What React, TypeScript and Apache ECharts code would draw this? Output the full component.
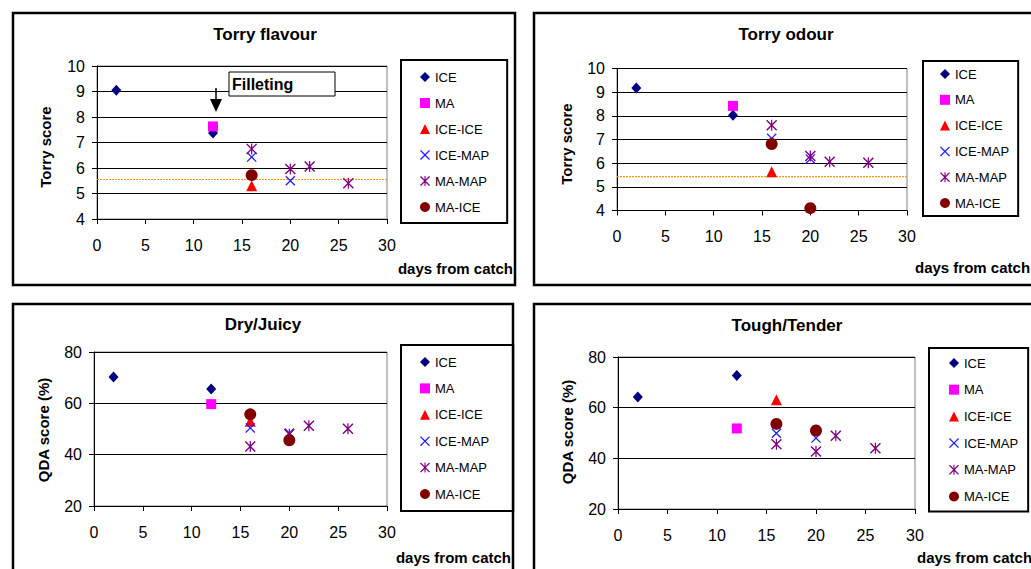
import React, { useEffect, useRef } from "react";
import * as echarts from "echarts";

const SERIES_NAMES = ["ICE", "MA", "ICE-ICE", "ICE-MAP", "MA-MAP", "MA-ICE"];
const PANEL_TITLES = ["Torry flavour", "Torry odour", "Dry/Juicy", "Tough/Tender"];
const Y_NAMES = ["Torry score", "Torry score", "QDA score (%)", "QDA score (%)"];
const X_NAME = "days from catch";
const FILLET_LABEL = "Filleting";

// Torry flavour
const flavourICE = [[2, 9.05], [12, 7.37]];
const flavourMA = [[12, 7.63]];
const flavourICEICE = [[16, 5.3]];
const flavourICEMAP = [[16, 6.43], [20, 5.5]];
const flavourMAMAP = [[16, 6.75], [20, 5.96], [22, 6.06], [26, 5.4]];
const flavourMAICE = [[16, 5.72]];
const flavourLimit = 5.55;

// Torry odour
const odourICE = [[2, 9.18], [12, 8.02]];
const odourMA = [[12, 8.42]];
const odourICEICE = [[16, 5.64]];
const odourICEMAP = [[16, 7.05], [20, 6.18]];
const odourMAMAP = [[16, 7.6], [20, 6.3], [22, 6.06], [26, 6.02]];
const odourMAICE = [[16, 6.81], [20, 4.1]];
const odourLimit = 5.43;

// Dry/Juicy
const juicyICE = [[2, 70.3], [12, 65.6]];
const juicyMA = [[12, 59.7]];
const juicyICEICE = [[16, 53.0]];
const juicyICEMAP = [[16, 50.4], [20, 48.4]];
const juicyMAMAP = [[16, 43.2], [20, 48.0], [22, 51.3], [26, 50.1]];
const juicyMAICE = [[16, 55.7], [20, 45.6]];

// Tough/Tender
const tenderICE = [[2, 64.2], [12, 72.7]];
const tenderMA = [[12, 51.8]];
const tenderICEICE = [[16, 63.1]];
const tenderICEMAP = [[16, 49.9], [20, 48.0]];
const tenderMAMAP = [[16, 45.6], [20, 42.7], [22, 48.9], [26, 44.0]];
const tenderMAICE = [[16, 53.6], [20, 51.0]];

const X_RANGE = { min: 0, max: 30, interval: 5 };
const TORRY_RANGE = { min: 4, max: 10, interval: 1 };
const QDA_RANGE = { min: 20, max: 80, interval: 20 };

const X_SHAPE =
  "path://M0,0.9L0.9,0L5,4.1L9.1,0L10,0.9L5.9,5L10,9.1L9.1,10L5,5.9L0.9,10L0,9.1L4.1,5Z";
const STAR_SHAPE =
  "path://M0,0.9L0.9,0L5,4.1L9.1,0L10,0.9L5.9,5L10,9.1L9.1,10L5,5.9L0.9,10L0,9.1L4.1,5Z M4.45,0L5.55,0L5.55,10L4.45,10Z";

const STYLES: Record<string, any> = {
  ICE: { symbol: "diamond", symbolSize: [10, 11], color: "#000080" },
  MA: { symbol: "rect", symbolSize: 10, color: "#FF00FF" },
  "ICE-ICE": { symbol: "triangle", symbolSize: 11, color: "#FF0000" },
  "ICE-MAP": { symbol: X_SHAPE, symbolSize: 10, color: "#2020FF" },
  "MA-MAP": { symbol: STAR_SHAPE, symbolSize: 11, color: "#800080" },
  "MA-ICE": { symbol: "circle", symbolSize: 12, color: "#800000" },
};

const FONT = "'Liberation Sans', Arial, sans-serif";

export default function App() {
  const ref = useRef<HTMLDivElement>(null);

  useEffect(() => {
    if (!ref.current) return;
    const chart = echarts.init(ref.current, undefined, { renderer: "svg" });

    const panels = [
      { data: [flavourICE, flavourMA, flavourICEICE, flavourICEMAP, flavourMAMAP, flavourMAICE], limit: flavourLimit, range: TORRY_RANGE },
      { data: [odourICE, odourMA, odourICEICE, odourICEMAP, odourMAMAP, odourMAICE], limit: odourLimit, range: TORRY_RANGE },
      { data: [juicyICE, juicyMA, juicyICEICE, juicyICEMAP, juicyMAMAP, juicyMAICE], limit: null, range: QDA_RANGE },
      { data: [tenderICE, tenderMA, tenderICEICE, tenderICEMAP, tenderMAMAP, tenderMAICE], limit: null, range: QDA_RANGE },
    ];

    const grids = [
      { left: 97, top: 66, width: 290, height: 153 },
      { left: 617, top: 68.5, width: 290, height: 142 },
      { left: 94, top: 352, width: 293, height: 154 },
      { left: 618, top: 357, width: 297, height: 152 },
    ];

    const legendBoxes = [
      { left: 401, top: 60, padding: [10, 18, 9, 19], itemGap: 12 },
      { left: 923, top: 61, padding: [6, 9, 6, 17], itemGap: 11.8 },
      { left: 401, top: 345, padding: [10, 24, 10, 19], itemGap: 12.4 },
      { left: 929, top: 348, padding: [8, 10, 8, 20], itemGap: 12.7 },
    ];

    const series: any[] = [];
    panels.forEach((p, pi) => {
      if (p.limit !== null) {
        series.push({
          type: "line",
          name: "limit",
          xAxisIndex: pi,
          yAxisIndex: pi,
          data: [[X_RANGE.min, p.limit], [X_RANGE.max, p.limit]],
          symbol: "none",
          silent: true,
          lineStyle: { color: "#FF9900", type: [2, 1], width: 1.2 },
          emphasis: { disabled: true },
          z: 2,
        });
      }
      SERIES_NAMES.forEach((name, si) => {
        const st = STYLES[name];
        series.push({
          type: "scatter",
          name,
          xAxisIndex: pi,
          yAxisIndex: pi,
          data: p.data[si],
          symbol: st.symbol,
          symbolSize: st.symbolSize,
          itemStyle: { color: st.color, opacity: 1 },
          emphasis: { disabled: true },
          z: 3 + si,
        });
      });
    });

    const axisLabel = { color: "#000", fontSize: 16, fontFamily: FONT };

    const xAxis = grids.map((_, i) => ({
      type: "value",
      gridIndex: i,
      ...X_RANGE,
      axisLine: { show: true, onZero: false, lineStyle: { color: "#000", width: 1 } },
      axisTick: { show: true, length: 5, lineStyle: { color: "#000" } },
      axisLabel: { ...axisLabel, margin: 18 },
      splitLine: { show: false },
    }));

    const yAxis = panels.map((p, i) => ({
      type: "value",
      gridIndex: i,
      ...p.range,
      axisLine: { show: true, onZero: false, lineStyle: { color: "#000", width: 1 } },
      axisTick: { show: true, length: 5, lineStyle: { color: "#000" } },
      axisLabel: { ...axisLabel, margin: 12 },
      splitLine: { show: true, lineStyle: { color: "#000", width: 1 } },
    }));

    const legend = legendBoxes.map((b) => ({
      orient: "vertical",
      left: b.left,
      top: b.top,
      padding: b.padding,
      itemGap: b.itemGap,
      itemWidth: 10,
      itemHeight: 10,
      borderColor: "#000",
      borderWidth: 2,
      backgroundColor: "#fff",
      selectedMode: false,
      data: SERIES_NAMES,
      textStyle: { color: "#000", fontSize: 13, fontFamily: FONT, lineHeight: 14 },
    }));

    const titlePos = [
      [265, 34],
      [786, 34],
      [263, 324],
      [787, 325],
    ];
    const yNamePos = [
      [45, 147],
      [566, 144],
      [43, 430],
      [567, 432],
    ];
    const xNamePos = [
      { x: 513, y: 268, align: "right" },
      { x: 915, y: 267, align: "left" },
      { x: 511, y: 557, align: "right" },
      { x: 917, y: 557, align: "left" },
    ];
    const borders = [
      { x: 13, y: 13, width: 502, height: 272 },
      { x: 534, y: 13, width: 520, height: 272 },
      { x: 13, y: 304, width: 500, height: 300 },
      { x: 534, y: 304, width: 520, height: 300 },
    ];

    const graphic: any[] = [];
    borders.forEach((b) =>
      graphic.push({
        type: "rect",
        shape: b,
        style: { fill: "none", stroke: "#000", lineWidth: 2.5 },
        silent: true,
        z: 100,
      })
    );
    PANEL_TITLES.forEach((t, i) =>
      graphic.push({
        type: "text",
        x: titlePos[i][0],
        y: titlePos[i][1],
        style: { text: t, fill: "#000", font: `bold 17px ${FONT}`, textAlign: "center", textVerticalAlign: "middle" },
        silent: true,
        z: 100,
      })
    );
    Y_NAMES.forEach((t, i) =>
      graphic.push({
        type: "text",
        x: yNamePos[i][0],
        y: yNamePos[i][1],
        rotation: Math.PI / 2,
        style: { text: t, fill: "#000", font: `bold 15px ${FONT}`, textAlign: "center", textVerticalAlign: "middle" },
        silent: true,
        z: 100,
      })
    );
    xNamePos.forEach((p) =>
      graphic.push({
        type: "text",
        x: p.x,
        y: p.y,
        style: { text: X_NAME, fill: "#000", font: `bold 15px ${FONT}`, textAlign: p.align, textVerticalAlign: "middle" },
        silent: true,
        z: 100,
      })
    );
    // Filleting annotation
    graphic.push({
      type: "rect",
      shape: { x: 229, y: 72, width: 106, height: 24 },
      style: { fill: "#fff", stroke: "#000", lineWidth: 1 },
      silent: true,
      z: 100,
    });
    graphic.push({
      type: "text",
      x: 232,
      y: 84,
      style: { text: FILLET_LABEL, fill: "#000", font: `bold 16px ${FONT}`, textAlign: "left", textVerticalAlign: "middle" },
      silent: true,
      z: 101,
    });
    graphic.push({
      type: "line",
      shape: { x1: 216, y1: 88, x2: 216, y2: 100 },
      style: { stroke: "#000", lineWidth: 1.5 },
      silent: true,
      z: 100,
    });
    graphic.push({
      type: "polygon",
      shape: { points: [[210, 99], [222, 99], [216, 112]] },
      style: { fill: "#000" },
      silent: true,
      z: 100,
    });

    chart.setOption({
      animation: false,
      backgroundColor: "#fff",
      textStyle: { fontFamily: FONT },
      grid: grids.map((g) => ({ ...g, show: true, borderColor: "#808080", borderWidth: 1, backgroundColor: "transparent" })),
      xAxis,
      yAxis,
      legend,
      series,
      graphic,
    });

    return () => chart.dispose();
  }, []);

  return (
    <div
      ref={ref}
      style={{ position: "absolute", left: 0, top: 0, width: 1031, height: 569 }}
    />
  );
}
